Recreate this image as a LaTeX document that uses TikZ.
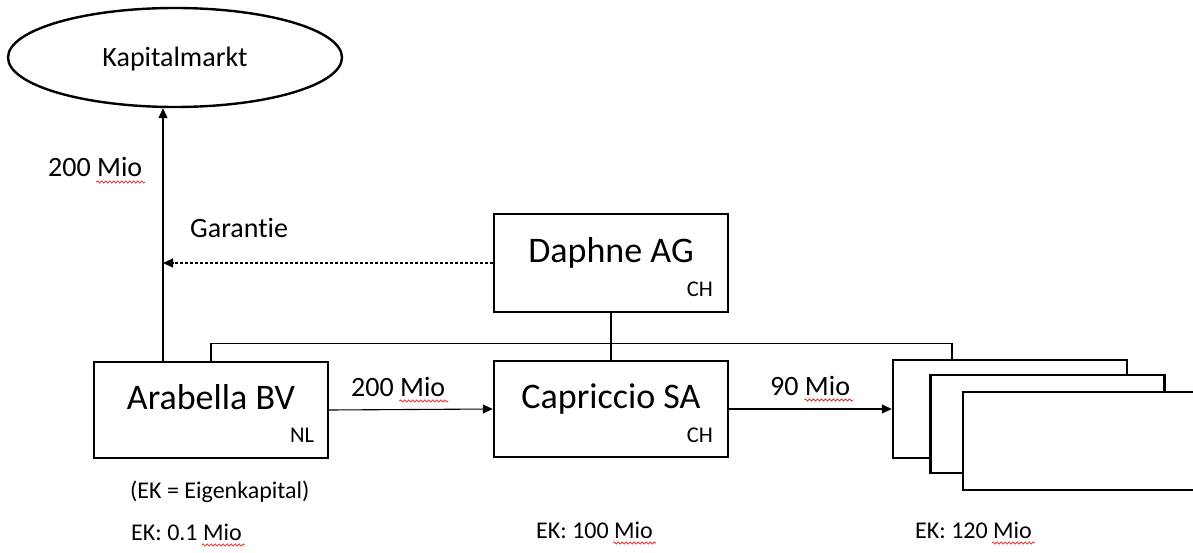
\documentclass[tikz,border=0pt]{standalone}
\usepackage{fontspec}
\setmainfont{Carlito}[Ligatures=NoCommon]
\usetikzlibrary{arrows.meta,positioning,calc,shapes.geometric,decorations.pathmorphing}
\definecolor{spellred}{RGB}{225,50,50}
\newcommand{\squig}[2]{\draw[spell] ([shift={(-#2,5)}]#1.base east) -- ([shift={(3,5)}]#1.base east);}

\begin{document}
\begin{tikzpicture}[x=1pt,y=-1pt,
  firm/.style={draw,line width=2.4pt,fill=white,minimum width=234pt,minimum height=96pt,
    font=\fontsize{36}{40}\selectfont,text height=24pt,text depth=26pt},
  sub/.style={draw,line width=2.4pt,fill=white,minimum width=234pt,minimum height=98pt},
  tag/.style={font=\fontsize{22.5}{26}\selectfont,inner sep=0pt,anchor=base east},
  lbl/.style={font=\fontsize{28}{32}\selectfont,inner sep=0pt,anchor=base west},
  note/.style={font=\fontsize{24}{28}\selectfont,inner sep=0pt,anchor=base west},
  link/.style={line width=1.1pt},
  arr/.style={link,-{Triangle[length=10pt,width=9pt]}},
  spell/.style={spellred,line width=0.8pt,decorate,
    decoration={snake,amplitude=1.1pt,segment length=4pt}}]
\useasboundingbox (0,0) rectangle (1193,553);

% market and companies
\node[draw,ellipse,line width=2.4pt,minimum width=334pt,minimum height=99pt,inner sep=0pt,
  font=\fontsize{28}{32}\selectfont,text height=20pt,text depth=1pt] (markt) at (175,57.5) {Kapitalmarkt};
\node[firm,minimum height=98pt] (daph) at (611,263) {Daphne AG};
\node[firm] (arab) at (211,410) {Arabella BV};
\node[firm] (capr) at (611,409) {Capriccio SA};
\node[tag] (daphC) at ([shift={(-16,-17)}]daph.south east) {CH};
\node[tag] (arabC) at ([shift={(-15,-17)}]arab.south east) {NL};
\node[tag] (caprC) at ([shift={(-16,-16)}]capr.south east) {CH};

% stacked subsidiaries
\node[sub] (sub1) at (1010,409) {};
\node[sub] (sub2) at (1047.5,424) {};
\node[sub,minimum width=236pt] (sub3) at (1081,441) {};

% connectors
\coordinate (upS) at ([xshift=-48pt]arab.north);
\draw[arr] (upS) -- (upS |- markt.south);
\draw[arr,dash pattern=on 3pt off 2pt] (daph.west) -- (daph.west -| upS);
\coordinate (busL) at ([yshift=17pt]arab.north);
\coordinate (busR) at ([xshift=-58pt]sub1.north);
\draw[link] (arab.north) -- (busL) -| (busR);
\draw[link] (daph.south) -- (capr.north);
\draw[arr] (arab.east) -- (capr.west);
\draw[arr] (capr.east) -- (sub1.west);

% labels
\node[lbl] (upMio) at (48,177) {200 Mio};
\node[lbl] (gar) at (190,237) {Garantie};
\node[lbl] (midMio) at (351,396) {200 Mio};
\node[lbl] (rightMio) at (770,395) {90 Mio};
\node[note] (ekDef) at (130,498) {(EK = Eigenkapital)};
\node[note] (ekA) at (131,540) {EK: 0.1 Mio};
\node[note] (ekC) at (536,538) {EK: 100 Mio};
\node[note] (ekS) at (915,538) {EK: 120 Mio};
\squig{upMio}{46}
\squig{midMio}{46}
\squig{rightMio}{46}
\squig{ekA}{40}
\squig{ekC}{40}
\squig{ekS}{40}
\end{tikzpicture}
\end{document}
